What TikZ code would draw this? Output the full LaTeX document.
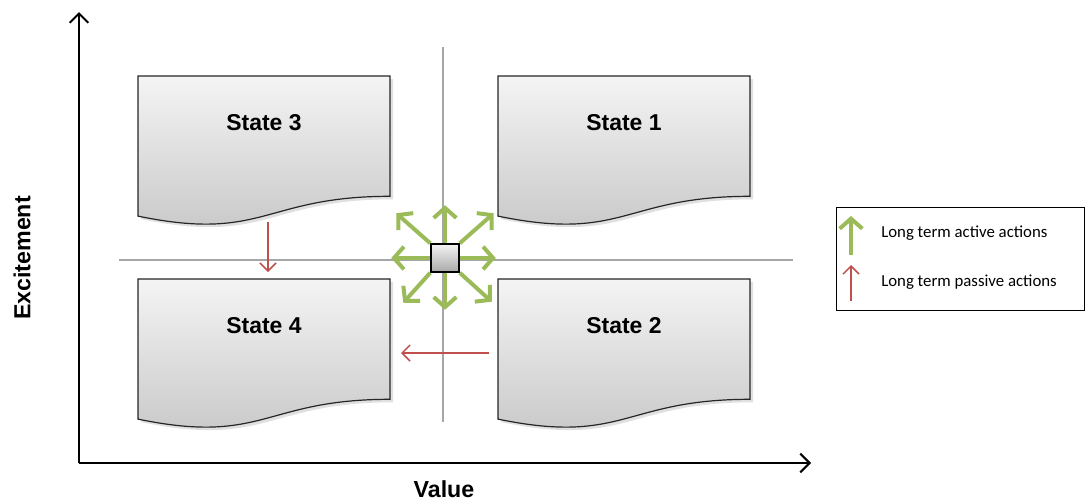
\documentclass[tikz,border=0pt]{standalone}
\usepackage{fontspec}
\setmainfont{Liberation Sans}
\newfontfamily\legendfont{Carlito}
\usetikzlibrary{arrows.meta}

\definecolor{actgreen}{HTML}{9BBB59}
\definecolor{passred}{HTML}{C0504D}
\definecolor{gridgrey}{HTML}{A6A6A6}
\definecolor{boxtop}{HTML}{F4F4F4}
\definecolor{boxbot}{HTML}{C6C6C6}

\tikzset{
  axisline/.style={line width=1.5pt, -{Straight Barb[length=7pt,width=14pt]}},
  gridline/.style={gridgrey, line width=0.9pt},
  docedge/.style={draw=black!85, line width=0.9pt},
  statelabel/.style={font=\bfseries\fontsize{17.2}{20}\selectfont, inner sep=0pt},
  axislabel/.style={font=\bfseries\fontsize{17.4}{20}\selectfont, inner sep=0pt},
  activearrow/.style={actgreen, line width=3pt, -{Straight Barb[length=7.5pt,width=17pt]}},
  passivearrow/.style={passred, line width=1.1pt, -{Straight Barb[length=6pt,width=12pt]}},
  legendtext/.style={font=\legendfont\fontsize{12.6}{15}\selectfont, anchor=west, inner sep=0pt},
}

% Document-shaped state box: #1 name, #2 top-left corner, #3 label
\newcommand\statedoc[3]{%
  \begin{scope}[shift={#2}]
    \fill[black!12] (3,3) -- (255,3) -- (255,123.3)
      .. controls (129,123.3) and (129,169.2) .. (3,143.1) -- cycle;
    \shade[top color=boxtop, bottom color=boxbot, docedge]
      (0,0) -- (252,0) -- (252,120.3)
      .. controls (126,120.3) and (126,166.2) .. (0,140.1) -- cycle;
    \node[statelabel] (#1) at (126,46.5) {#3};
  \end{scope}}

\begin{document}
\begin{tikzpicture}[x=0.75pt, y=-0.75pt]
  \useasboundingbox (0,0) rectangle (1085,500);

  % quadrant grid
  \draw[gridline] (443,47) -- (443,422);
  \draw[gridline] (119,260) -- (793,260);

  % state boxes
  \statedoc{s3}{(138,76)}{State 3}
  \statedoc{s1}{(498,76)}{State 1}
  \statedoc{s4}{(138,279)}{State 4}
  \statedoc{s2}{(498,279)}{State 2}

  % axes
  \coordinate (origin) at (79,463);
  \coordinate (ytip) at (79,12);
  \coordinate (xtip) at (811,463);
  \draw[axisline] (origin) -- (ytip);
  \draw[axisline] (origin) -- (xtip);
  \node[axislabel, rotate=90] (ylab) at (22,258) {Excitement};
  \node[axislabel] (xlab) at (444,489) {Value};

  % central hub with active actions
  \node[draw=black, line width=1.1pt, minimum size=21pt, inner sep=0pt,
        top color=boxtop, bottom color=boxbot!85!black] (hub) at (445,258) {};
  \draw[activearrow] (hub.north) -- ++(0,-38);
  \draw[activearrow] (hub.south) -- ++(0,37);
  \draw[activearrow] (hub.west) -- ++(-39,0);
  \draw[activearrow] (hub.east) -- ++(36,0);
  \draw[activearrow] (hub.north west) -- ++(-34,-30);
  \draw[activearrow] (hub.north east) -- ++(34,-30);
  \draw[activearrow] (hub.south west) -- ++(-27,30);
  \draw[activearrow] (hub.south east) -- ++(32,29);

  % passive actions
  \coordinate (p1a) at (268,222);
  \coordinate (p1b) at (268,272);
  \coordinate (p2a) at (489,353);
  \coordinate (p2b) at (401,353);
  \draw[passivearrow] (p1a) -- (p1b);
  \draw[passivearrow] (p2a) -- (p2b);

  % legend
  \node[draw=black, line width=1.1pt, inner sep=0pt, anchor=north west,
        minimum width=186pt, minimum height=77pt] (legend) at (836,207) {};
  \coordinate (la) at (851,255);
  \coordinate (lb) at (851,216);
  \coordinate (lc) at (851,301);
  \coordinate (ld) at (851,265);
  \draw[activearrow] (la) -- (lb);
  \draw[passivearrow] (lc) -- (ld);
  \node[legendtext] (lt1) at (881,233) {Long term active actions};
  \node[legendtext] (lt2) at (881,282) {Long term passive actions};
\end{tikzpicture}
\end{document}
